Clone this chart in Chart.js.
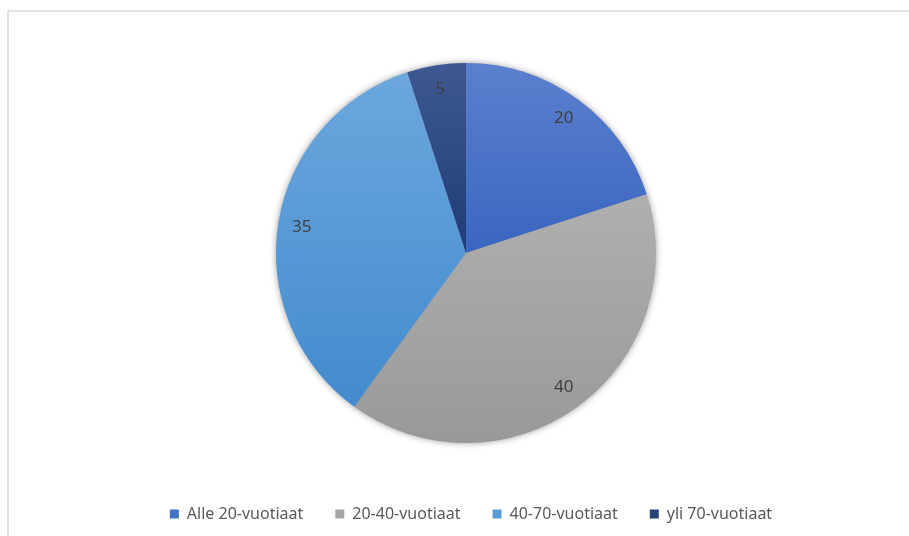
<!DOCTYPE html>
<html>
<head>
<meta charset="utf-8">
<script src="https://cdn.jsdelivr.net/npm/chart.js@4"></script>
<style>
  html, body { margin: 0; padding: 0; background: #fff; }
  #wrap { width: 909px; height: 536px; }
</style>
</head>
<body>
<div id="wrap"><canvas id="pie-chart"></canvas></div>
<script>
const categories = ["Alle 20-vuotiaat", "20-40-vuotiaat", "40-70-vuotiaat", "yli 70-vuotiaat"];
const values = [20, 40, 35, 5];
// top / bottom shades of each slice (Excel style gradient)
const topColors = ["#5b80ce", "#afafaf", "#6ca7de", "#3f5893"];
const bottomColors = ["#3966c0", "#999999", "#438bcd", "#1f3c77"];
const baseColors = ["#4472c4", "#a5a5a5", "#5b9bd5", "#264478"];

const FONT = "'Noto Sans', 'Liberation Sans', sans-serif";
const PIE_R = 190;

// vertical extent of slice i, worked out from the chart area and the data
function sliceYRange(chart, i) {
  const area = chart.chartArea;
  const cy = (area.top + area.bottom) / 2;
  const total = values.reduce((s, v) => s + v, 0);
  let before = 0;
  for (let k = 0; k < i; k++) before += values[k];
  const a0 = -Math.PI / 2 + before / total * Math.PI * 2;
  const a1 = a0 + values[i] / total * Math.PI * 2;
  const ys = [cy, cy + Math.sin(a0) * PIE_R, cy + Math.sin(a1) * PIE_R];
  [-Math.PI / 2, Math.PI / 2, Math.PI * 1.5].forEach(t => {
    if (t >= a0 && t <= a1) ys.push(cy + Math.sin(t) * PIE_R);
  });
  return [Math.min(...ys), Math.max(...ys)];
}

const frame = {
  id: "frame",
  beforeDraw(chart) {
    const ctx = chart.ctx;
    ctx.save();
    ctx.strokeStyle = "#d9d9d9";
    ctx.lineWidth = 1.5;
    ctx.beginPath();
    ctx.moveTo(8, 536);
    ctx.lineTo(8, 11);
    ctx.lineTo(909, 11);
    ctx.stroke();
    ctx.restore();
  }
};

// legend sits a little right of the pie centre in the original
const legendShift = {
  id: "legendShift",
  afterLayout(chart) {
    if (chart.legend) {
      chart.legend.left += 5;
      chart.legend.right += 5;
    }
  }
};

const pieShadow = {
  id: "pieShadow",
  beforeDatasetsDraw(chart) {
    const arc = chart.getDatasetMeta(0).data[0];
    if (!arc) return;
    const ctx = chart.ctx;
    ctx.save();
    ctx.shadowColor = "rgba(0,0,0,0.45)";
    ctx.shadowBlur = 7;
    ctx.fillStyle = "#a0a0a0";
    ctx.beginPath();
    ctx.arc(arc.x, arc.y, arc.outerRadius - 0.5, 0, Math.PI * 2);
    ctx.fill();
    ctx.restore();
  }
};

const sliceLabels = {
  id: "sliceLabels",
  afterDatasetsDraw(chart) {
    const ctx = chart.ctx;
    const meta = chart.getDatasetMeta(0);
    ctx.save();
    ctx.fillStyle = "#404040";
    ctx.font = "17px " + FONT;
    ctx.textAlign = "center";
    ctx.textBaseline = "middle";
    meta.data.forEach((a, i) => {
      const mid = (a.startAngle + a.endAngle) / 2;
      const r = a.outerRadius * 0.875;
      ctx.fillText(String(values[i]), a.x + Math.cos(mid) * r, a.y + Math.sin(mid) * r);
    });
    ctx.restore();
  }
};

new Chart(document.getElementById("pie-chart"), {
  type: "pie",
  data: {
    labels: categories,
    datasets: [{
      data: values,
      borderWidth: 0,
      radius: PIE_R,
      backgroundColor: (c) => {
        const i = c.dataIndex;
        if (i === undefined || !c.chart.chartArea) return baseColors[i];
        const [y0, y1] = sliceYRange(c.chart, i);
        const g = c.chart.ctx.createLinearGradient(0, y0, 0, y1);
        g.addColorStop(0, topColors[i]);
        g.addColorStop(1, bottomColors[i]);
        return g;
      }
    }]
  },
  options: {
    responsive: true,
    maintainAspectRatio: false,
    animation: false,
    layout: { padding: { top: 32, bottom: 4, left: 23, right: 0 } },
    plugins: {
      tooltip: { enabled: false },
      legend: {
        position: "bottom",
        labels: {
          font: { family: FONT, size: 16 },
          color: "#595959",
          boxWidth: 9,
          boxHeight: 9,
          padding: 32,
          generateLabels: () => categories.map((c, i) => ({
            text: c,
            fillStyle: baseColors[i],
            strokeStyle: baseColors[i],
            lineWidth: 0,
            hidden: false,
            index: i,
            fontColor: "#595959"
          }))
        }
      }
    }
  },
  plugins: [frame, legendShift, pieShadow, sliceLabels]
});
</script>
</body>
</html>
